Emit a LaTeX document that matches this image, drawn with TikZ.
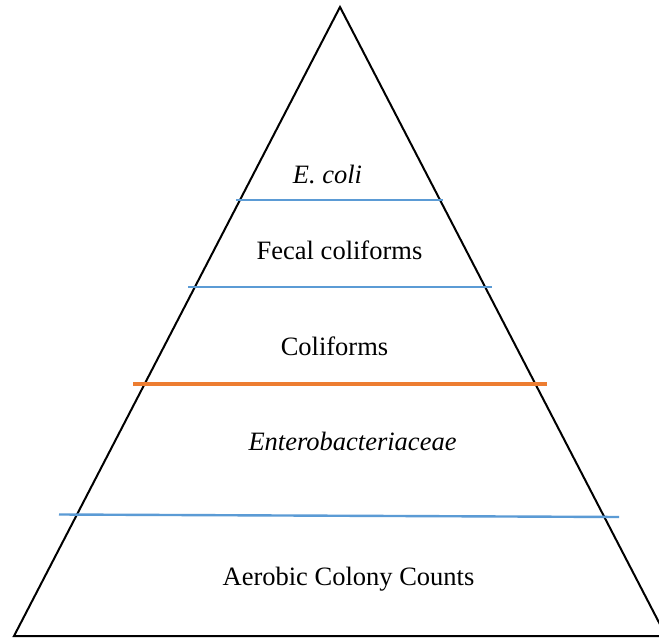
\documentclass[tikz,border=0pt]{standalone}
\usepackage{fontspec}
\setmainfont{Liberation Serif}
\definecolor{lvblue}{HTML}{5B9BD5}
\definecolor{lvorange}{HTML}{ED7D31}
\begin{document}
\begin{tikzpicture}[x=1pt,y=-1pt,
  edge/.style={black,line width=2pt,line join=miter},
  bluesep/.style={lvblue,line width=2.4pt},
  orangesep/.style={lvorange,line width=3.6pt},
  lbl/.style={anchor=base,inner sep=0pt,font=\fontsize{26.5}{30}\selectfont}]
\useasboundingbox (0,0) rectangle (659,639);
\clip (0,0) rectangle (659,639);
\fill[white] (0,0) rectangle (659,639);
\coordinate (apex) at (340,7);
\coordinate (bl) at (14,636);
\coordinate (br) at (666,636);
\draw[edge] (bl) -- (apex) -- (br) -- cycle;
\coordinate (s1l) at (236,200); \coordinate (s1r) at (443,200);
\coordinate (s2l) at (188,287); \coordinate (s2r) at (492,287);
\coordinate (s3l) at (133,384); \coordinate (s3r) at (547,384);
\coordinate (s4l) at (59,514.5); \coordinate (s4r) at (619,517);
\draw[bluesep] (s1l) -- (s1r);
\draw[bluesep] (s2l) -- (s2r);
\draw[orangesep] (s3l) -- (s3r);
\draw[bluesep] (s4l) -- (s4r);
\node[lbl] (ecoli) at (327.5,184) {\itshape E. coli};
\node[lbl] (fecal) at (339.5,260) {Fecal coliforms};
\node[lbl] (coli) at (334.5,355) {Coliforms};
\node[lbl] (entero) at (352.5,450) {\itshape Enterobacteriaceae};
\node[lbl] (acc) at (348.5,585) {Aerobic Colony Counts};
\end{tikzpicture}
\end{document}
